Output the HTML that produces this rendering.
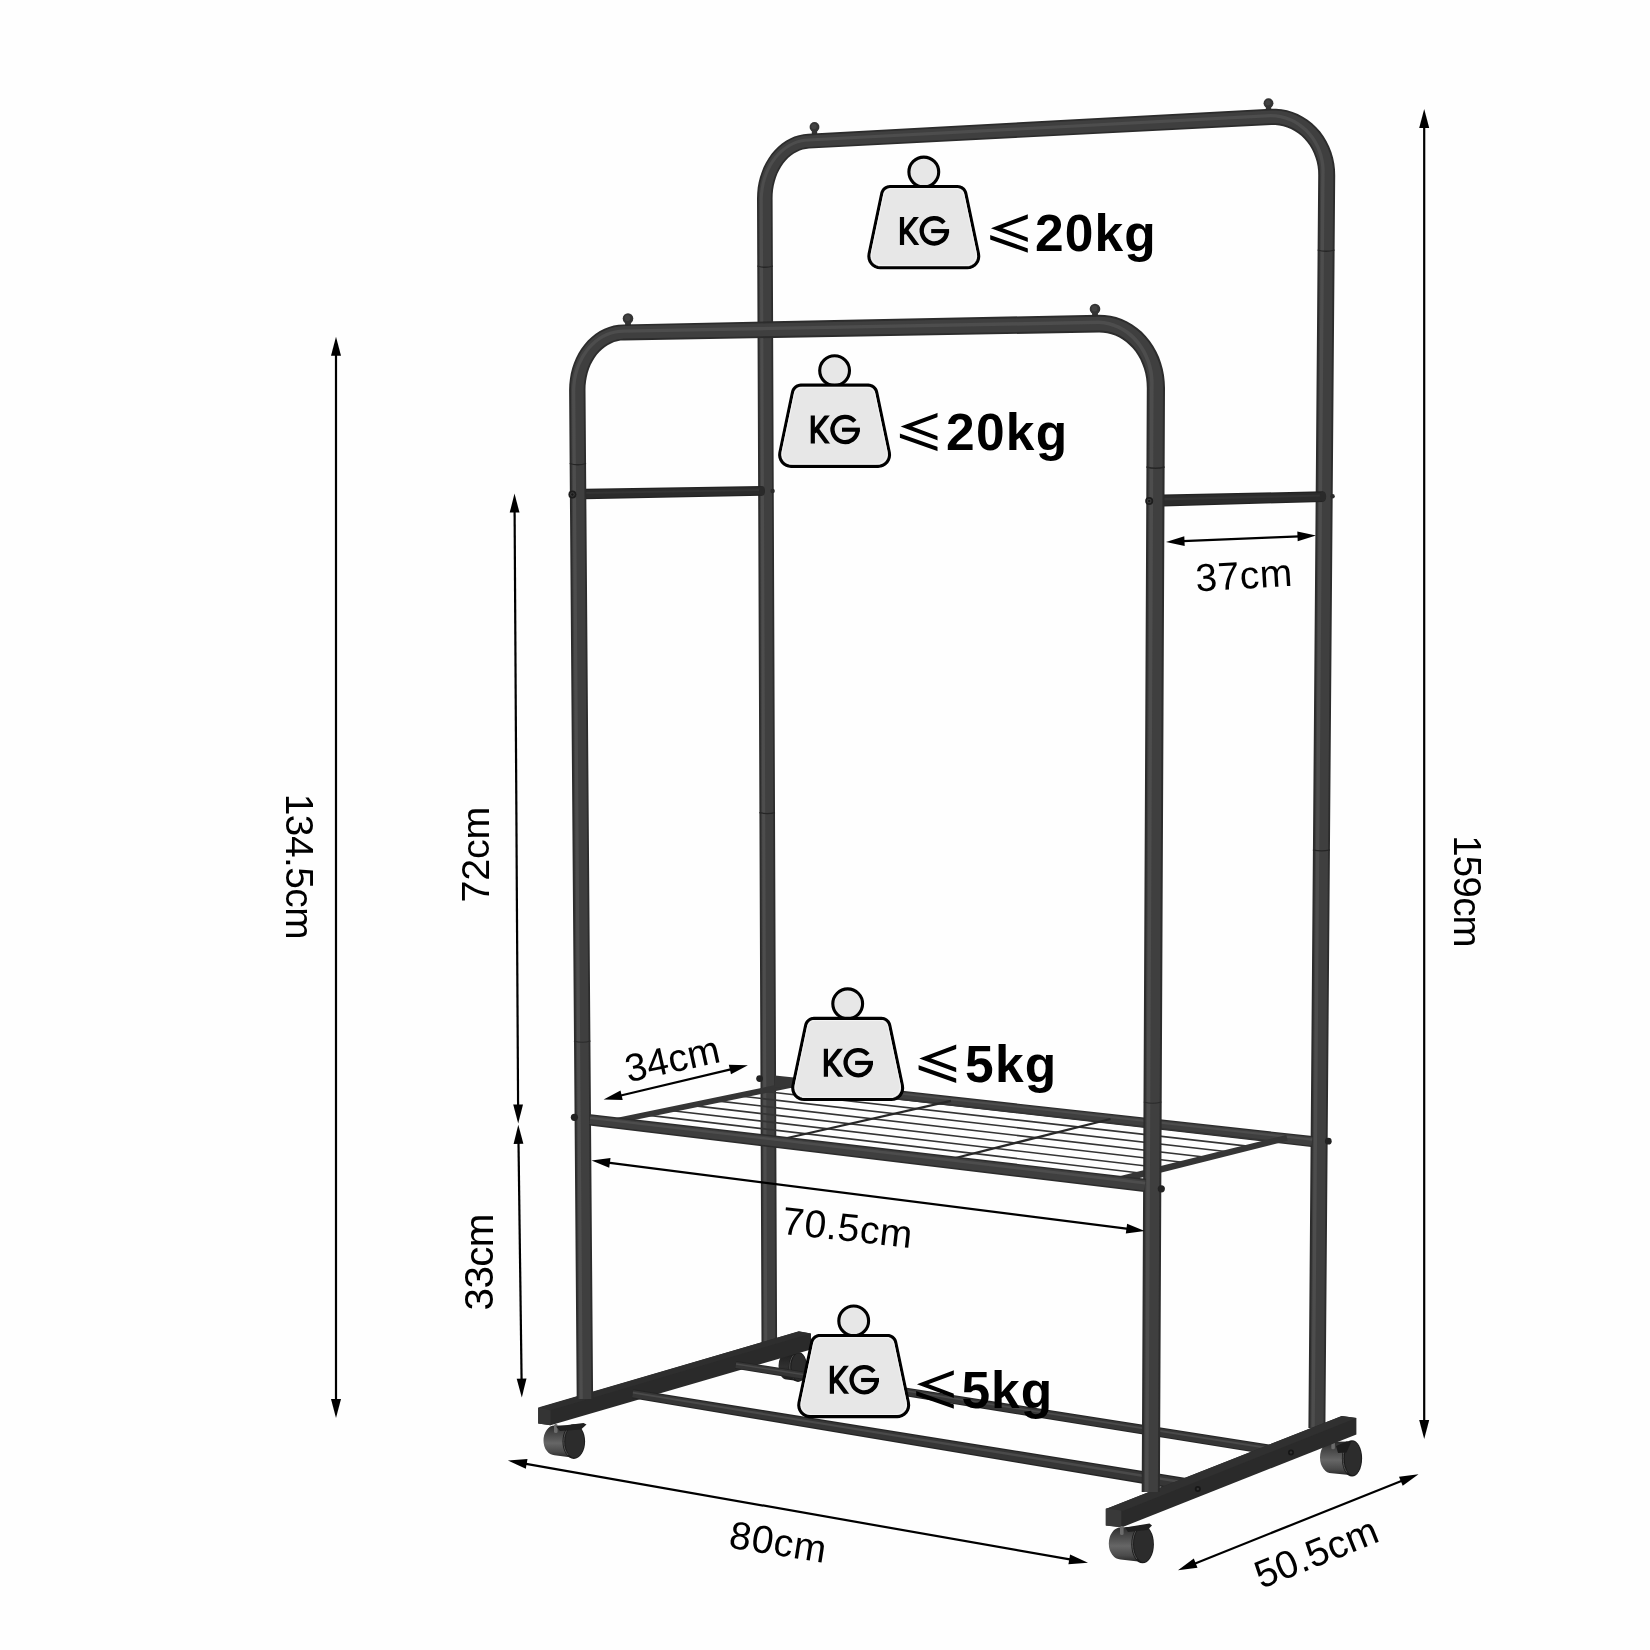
<!DOCTYPE html>
<html><head><meta charset="utf-8"><title>Garment rack dimensions</title>
<style>
html,body{margin:0;padding:0;background:#fff;}
svg{display:block;filter:grayscale(1) blur(0.45px);}
text{font-family:"Liberation Sans",sans-serif;fill:#000;}
.b{font-weight:bold;}
</style></head><body>
<svg width="1650" height="1650" viewBox="0 0 1650 1650">
<rect width="1650" height="1650" fill="#fefefe"/>
<defs>
<linearGradient id="wg" x1="0" y1="0" x2="0" y2="1"><stop offset="0" stop-color="#2a2a2c"/><stop offset="0.2" stop-color="#414143"/><stop offset="0.55" stop-color="#666668"/><stop offset="0.82" stop-color="#4a4a4c"/><stop offset="1" stop-color="#262628"/></linearGradient>
<linearGradient id="wgd" x1="0" y1="0" x2="0" y2="1"><stop offset="0" stop-color="#1e1e20"/><stop offset="0.5" stop-color="#303032"/><stop offset="1" stop-color="#1c1c1e"/></linearGradient>
<clipPath id="kclip"><rect x="-30" y="44.9" width="60" height="28"/></clipPath>
</defs>

<path d="M786.5,1352.5 L798,1353.1 L798,1380.9 L786.5,1379.5 A8,13.5 0 0 1 786.5,1352.5 Z" fill="url(#wgd)"/>
<ellipse cx="798" cy="1367" rx="9.4" ry="15" fill="#1b1b1d" />
<ellipse cx="798.9" cy="1367" rx="7.6" ry="13.7" fill="#2c2c2e" />
<path d="M793.3,1355.4 A7.9,13.9 0 0 0 793.3,1378.6" fill="none" stroke="#565658" stroke-width="0.9"/>
<path d="M1331.8,1441.7 L1352,1441.5 L1352,1475.3 L1331.8,1473.3 A11.8,15.8 0 0 1 1331.8,1441.7 Z" fill="url(#wg)"/>
<rect x="1331.3" y="1440.2" width="3.6" height="9" rx="1.5" fill="#6c6c6e"/>
<ellipse cx="1352" cy="1458.4" rx="10.1" ry="18.1" fill="#1b1b1d" />
<ellipse cx="1352.9" cy="1458.4" rx="8.3" ry="16.8" fill="#2c2c2e" />
<path d="M1346.9,1444.3 A8.6,17 0 0 0 1346.9,1472.5" fill="none" stroke="#565658" stroke-width="0.9"/>
<polygon points="1336,1446 1347,1441.2 1351,1442.5 1346.5,1452.5 1338,1453" fill="#1c1c1e" />
<rect x="811.8" y="127" width="5.4" height="10.8" fill="#343436"/>
<circle cx="814.5" cy="127" r="4.9" fill="#343436" />
<circle cx="814" cy="126.5" r="2.7" fill="#424244" />
<rect x="1265.8" y="103.2" width="5.4" height="10.8" fill="#343436"/>
<circle cx="1268.5" cy="103.2" r="4.9" fill="#343436" />
<circle cx="1268" cy="102.7" r="2.7" fill="#424244" />
<path d="M777.1,1345 L772.6,198.3 L772.7,194 L773.1,189.7 L773.8,185.5 L774.8,181.4 L776,177.4 L777.5,173.5 L779.3,169.9 L781.3,166.5 L783.5,163.3 L785.8,160.4 L788.4,157.8 L791.1,155.5 L793.9,153.5 L796.8,151.9 L799.8,150.5 L802.8,149.5 L805.9,148.9 L809,148.5 L1271.3,125 L1275.3,125 L1279.3,125.4 L1283.2,126.2 L1287.1,127.4 L1290.9,128.9 L1294.5,130.9 L1298,133.2 L1301.3,135.8 L1304.3,138.7 L1307.1,142 L1309.7,145.5 L1311.9,149.3 L1313.8,153.3 L1315.4,157.5 L1316.7,161.8 L1317.6,166.2 L1318.1,170.7 L1318.2,175.3 L1308.4,1427.9 L1325.4,1428.1 L1335.2,175.4 L1335,169.4 L1334.3,163.5 L1333.1,157.7 L1331.4,152.1 L1329.2,146.6 L1326.6,141.3 L1323.6,136.3 L1320.2,131.6 L1316.3,127.3 L1312.1,123.3 L1307.6,119.8 L1302.8,116.7 L1297.8,114 L1292.6,111.9 L1287.1,110.3 L1281.6,109.3 L1276,108.8 L1270.4,108.8 L808.2,133.7 L803.5,134.2 L798.9,135.2 L794.4,136.6 L790.1,138.5 L785.9,140.8 L781.9,143.6 L778.1,146.7 L774.6,150.3 L771.4,154.1 L768.5,158.2 L765.8,162.7 L763.5,167.3 L761.6,172.2 L759.9,177.2 L758.6,182.4 L757.7,187.6 L757.2,193 L757,198.4 L761.5,1345Z" fill="#2c2c2e"/>
<path d="M775.3,1345 L770.9,198.3 L771,193.9 L771.4,189.5 L772.1,185.1 L773.1,180.9 L774.4,176.8 L776,172.9 L777.8,169.1 L779.9,165.6 L782.1,162.3 L784.6,159.3 L787.3,156.6 L790.1,154.2 L793,152.2 L796,150.4 L799.2,149 L802.4,148 L805.6,147.2 L808.9,146.9 L1271.2,123.2 L1275.4,123.2 L1279.5,123.6 L1283.7,124.4 L1287.7,125.7 L1291.6,127.3 L1295.4,129.3 L1299.1,131.7 L1302.5,134.4 L1305.6,137.5 L1308.6,140.9 L1311.2,144.5 L1313.5,148.4 L1315.5,152.6 L1317.2,156.9 L1318.5,161.3 L1319.4,165.9 L1319.9,170.6 L1320.1,175.3 L1310.3,1427.9 L1323.6,1428.1 L1333.3,175.4 L1333.1,169.6 L1332.4,163.8 L1331.3,158.2 L1329.6,152.7 L1327.5,147.3 L1325,142.2 L1322.1,137.3 L1318.7,132.8 L1315,128.5 L1311,124.7 L1306.6,121.2 L1301.9,118.2 L1297,115.7 L1292,113.6 L1286.7,112.1 L1281.4,111 L1275.9,110.5 L1270.5,110.6 L808.3,135.4 L803.8,135.8 L799.4,136.7 L795,138.1 L790.8,140 L786.8,142.2 L782.9,144.9 L779.3,148 L775.9,151.4 L772.7,155.1 L769.9,159.1 L767.3,163.5 L765.1,168 L763.1,172.7 L761.6,177.7 L760.3,182.7 L759.4,187.9 L758.9,193.1 L758.7,198.4 L763.2,1345Z" fill="#3f3f41"/>
<path d="M767.3,1345 L762.8,198.4 L763.1,193.4 L763.8,188.5 L764.7,183.6 L766,178.9 L767.6,174.3 L769.5,170 L771.7,165.8 L774.1,161.9 L776.8,158.3 L779.8,154.9 L782.9,151.9 L786.3,149.3 L789.7,147 L793.4,145.1 L797.1,143.6 L800.9,142.5 L804.7,141.8 L808.6,141.5 L1270.9,117.3 L1275.6,117.6 L1280.3,118.3 L1284.9,119.5 L1289.3,121.1 L1293.6,123.1 L1297.6,125.5 L1301.4,128.4 L1305,131.5 L1308.2,135 L1311.2,138.8 L1313.7,142.8 L1316,147.1 L1317.8,151.6 L1319.3,156.2 L1320.4,160.9 L1321,165.7 L1321.3,170.5 L1321.2,175.3 L1311.4,1428 L1314.8,1428 L1324.6,175.3 L1324.7,170.2 L1324.4,165.1 L1323.6,160.1 L1322.5,155.1 L1320.9,150.2 L1318.9,145.5 L1316.5,141 L1313.8,136.7 L1310.6,132.7 L1307.2,129 L1303.4,125.7 L1299.3,122.7 L1295,120.1 L1290.4,118 L1285.7,116.3 L1280.8,115.1 L1275.8,114.3 L1270.7,114.1 L808.4,138.5 L804.3,138.8 L800.1,139.6 L796,140.8 L792,142.4 L788.1,144.4 L784.4,146.9 L780.9,149.7 L777.5,152.9 L774.4,156.4 L771.6,160.2 L769,164.3 L766.7,168.7 L764.7,173.3 L763,178.1 L761.7,183 L760.7,188 L760,193.2 L759.7,198.4 L764.2,1345Z" fill="#4d4d4f"/>
<path d="M757.3,266 Q765.1,268.5 772.9,266" stroke="#262628" stroke-width="1.3" fill="none"/>
<path d="M1317.6,250 Q1326.1,252.5 1334.6,250" stroke="#262628" stroke-width="1.3" fill="none"/>
<path d="M759.4,812.7 Q767.2,814.5 775,812.7" stroke="#262628" stroke-width="1.3" fill="none"/>
<path d="M1312.9,849.9 Q1321.4,851.7 1329.9,849.9" stroke="#262628" stroke-width="1.3" fill="none"/>
<path d="M774.5,1085.8 L1311.4,1146.9 L1312.6,1136.1 L775.5,1076.8Z" fill="#2c2c2e"/>
<path d="M774.6,1084.8 L1311.5,1145.7 L1312.5,1137.3 L775.4,1077.8Z" fill="#3f3f41"/>
<path d="M775.1,1080.6 L1312.1,1140.7 L1312.3,1138.5 L775.3,1078.8Z" fill="#4d4d4f"/>
<path d="M585.1,499.2 L762.1,495.7 L761.9,486.1 L584.9,488.8Z" fill="#232325"/>
<path d="M585.1,498.1 L762.1,494.6 L761.9,487.2 L584.9,489.9Z" fill="#2c2c2e"/>
<path d="M585,494 L762,490.9 L762,489 L585,491.9Z" fill="#343436"/>
<ellipse cx="762" cy="490.9" rx="3" ry="4.8" fill="#2a2a2c" />
<path d="M1163.1,506.5 L1323.1,501.9 L1322.9,491.3 L1162.9,494.5Z" fill="#232325"/>
<path d="M1163.1,505.2 L1323.1,500.7 L1322.9,492.5 L1162.9,495.8Z" fill="#2c2c2e"/>
<path d="M1163,500.5 L1323,496.6 L1322.9,494.5 L1162.9,498.1Z" fill="#343436"/>
<ellipse cx="1323" cy="496.6" rx="3.2" ry="5.3" fill="#2a2a2c" />
<line x1="784.6" y1="1086.1" x2="1273.6" y2="1141.2" stroke="#343436" stroke-width="1.6"/>
<line x1="761.1" y1="1091" x2="1251.7" y2="1146.6" stroke="#343436" stroke-width="1.6"/>
<line x1="737.6" y1="1095.8" x2="1230" y2="1152" stroke="#343436" stroke-width="1.6"/>
<line x1="714.3" y1="1100.6" x2="1208.4" y2="1157.5" stroke="#343436" stroke-width="1.6"/>
<line x1="691.1" y1="1105.4" x2="1186.9" y2="1162.8" stroke="#343436" stroke-width="1.6"/>
<line x1="668" y1="1110.2" x2="1165.4" y2="1168.2" stroke="#343436" stroke-width="1.6"/>
<line x1="645" y1="1114.9" x2="1144.1" y2="1173.5" stroke="#343436" stroke-width="1.6"/>
<line x1="622.1" y1="1119.6" x2="1122.8" y2="1178.8" stroke="#343436" stroke-width="1.6"/>
<line x1="785" y1="1138.5" x2="951" y2="1100.8" stroke="#28282a" stroke-width="2.3"/>
<line x1="949.5" y1="1159.5" x2="1110.5" y2="1119" stroke="#28282a" stroke-width="2.3"/>
<path d="M607.6,1125.5 L797.6,1086.6 L796.4,1080.6 L606.4,1120.1Z" fill="#353537"/>
<path d="M1119.8,1183 L1287.7,1140.7 L1286.3,1134.9 L1118.2,1176.6Z" fill="#353537"/>
<polygon points="775,1075.6 794,1077.4 794,1085.8 775,1087.5" fill="#363638" />
<polygon points="538.2,1407.9 798.8,1331.4 811,1333.5 811,1349.5 550.5,1425.2 538.2,1423.6" fill="#2a2a2c" />
<polygon points="538.2,1407.6 798.8,1331.3 811,1333.5 550.5,1410.2" fill="#2e2e30" />
<polygon points="538.2,1407.6 550.5,1410.2 550.5,1425.2 538.2,1423.6" fill="#343436" />
<path d="M735.2,1368.8 L1275.2,1455.8 L1276.8,1445.6 L736.4,1361Z" fill="#252527"/>
<path d="M735.3,1367.9 L1275.4,1454.7 L1276.6,1446.7 L736.3,1361.9Z" fill="#363638"/>
<path d="M735.8,1364.7 L1276,1450.4 L1276.4,1448.4 L736.1,1363.2Z" fill="#4a4a4c"/>
<path d="M632,1398.3 L1189,1491.5 L1191,1478.7 L633.4,1389.3Z" fill="#252527"/>
<path d="M632.1,1397.3 L1189.2,1490.1 L1190.8,1480.1 L633.3,1390.3Z" fill="#363638"/>
<path d="M632.7,1393.6 L1190.1,1484.8 L1190.5,1482.2 L633,1391.8Z" fill="#4a4a4c"/>
<polygon points="1105.8,1509 1341.8,1416 1356.4,1418 1356.4,1434.5 1122.7,1527 1105.8,1525.5" fill="#2a2a2c" />
<polygon points="1105.8,1509 1341.8,1416 1356.4,1418 1122.7,1511" fill="#303032" />
<polygon points="1105.8,1508.6 1121.3,1510.6 1121.3,1527.4 1105.8,1525.5" fill="#39393b" />
<circle cx="1197.8" cy="1489" r="3" fill="#161618" />
<circle cx="1197.8" cy="1489" r="1.2" fill="#343436" />
<circle cx="1291" cy="1452.4" r="3" fill="#161618" />
<circle cx="1291" cy="1452.4" r="1.2" fill="#343436" />
<rect x="625.1" y="318.5" width="5.8" height="11.7" fill="#343436"/>
<circle cx="628" cy="318.5" r="5.3" fill="#343436" />
<circle cx="627.5" cy="318" r="2.9" fill="#424244" />
<rect x="1092.1" y="309" width="5.8" height="11.7" fill="#343436"/>
<circle cx="1095" cy="309" r="5.3" fill="#343436" />
<circle cx="1094.5" cy="308.5" r="2.9" fill="#424244" />
<path d="M593.1,1398.9 L585.5,389.8 L585.6,385.4 L586.1,381.1 L586.8,376.9 L587.8,372.7 L589.1,368.7 L590.7,364.8 L592.6,361.2 L594.7,357.8 L597,354.6 L599.5,351.7 L602.2,349.2 L605,346.9 L608,345 L611,343.4 L614.1,342.1 L617.3,341.2 L620.5,340.6 L623.8,340.4 L1099.1,332.5 L1103.2,332.7 L1107.2,333.2 L1111.2,334.2 L1115.1,335.5 L1118.9,337.3 L1122.6,339.4 L1126.1,342 L1129.4,344.9 L1132.5,348.1 L1135.4,351.6 L1138,355.5 L1140.3,359.6 L1142.2,364 L1143.9,368.5 L1145.2,373.2 L1146.1,378.1 L1146.6,383 L1146.8,387.9 L1141.7,1492 L1159.9,1492 L1165,388 L1164.7,381.6 L1164,375.3 L1162.8,369.1 L1161.1,363 L1159,357.1 L1156.4,351.4 L1153.3,346 L1149.9,340.9 L1146,336.2 L1141.8,331.8 L1137.2,327.9 L1132.3,324.4 L1127.1,321.4 L1121.8,318.9 L1116.2,317 L1110.5,315.7 L1104.7,314.9 L1098.8,314.7 L623.5,324.4 L618.5,324.7 L613.7,325.6 L608.9,326.9 L604.3,328.8 L599.8,331.1 L595.6,333.8 L591.6,337 L587.8,340.6 L584.4,344.5 L581.2,348.7 L578.4,353.2 L576,358 L573.9,363 L572.2,368.1 L570.8,373.5 L569.9,378.9 L569.3,384.4 L569.1,389.9 L576.7,1399.1Z" fill="#2c2c2e"/>
<path d="M591.3,1399 L583.7,389.8 L583.8,385.3 L584.3,380.9 L585,376.5 L586.1,372.2 L587.5,368 L589.1,364.1 L591,360.3 L593.2,356.8 L595.6,353.5 L598.2,350.5 L601,347.8 L604,345.5 L607.1,343.4 L610.3,341.8 L613.6,340.4 L616.9,339.5 L620.3,338.9 L623.7,338.6 L1099.1,330.6 L1103.3,330.7 L1107.6,331.3 L1111.7,332.3 L1115.8,333.7 L1119.8,335.5 L1123.6,337.8 L1127.3,340.4 L1130.8,343.4 L1134,346.8 L1137,350.5 L1139.7,354.4 L1142,358.7 L1144.1,363.2 L1145.8,367.9 L1147.1,372.8 L1148.1,377.8 L1148.6,382.8 L1148.8,387.9 L1143.7,1492 L1157.9,1492 L1163,388 L1162.8,381.8 L1162.1,375.6 L1160.9,369.6 L1159.2,363.6 L1157.1,357.9 L1154.6,352.3 L1151.6,347.1 L1148.3,342.1 L1144.5,337.5 L1140.4,333.2 L1136,329.4 L1131.2,326 L1126.2,323.1 L1121,320.8 L1115.6,318.9 L1110.1,317.6 L1104.5,316.9 L1098.9,316.7 L623.5,326.1 L618.8,326.5 L614.1,327.3 L609.5,328.6 L605,330.4 L600.7,332.6 L596.6,335.3 L592.7,338.3 L589.1,341.8 L585.8,345.6 L582.7,349.7 L580,354.1 L577.6,358.7 L575.6,363.6 L573.9,368.6 L572.6,373.8 L571.6,379.1 L571.1,384.5 L570.9,389.9 L578.5,1399Z" fill="#3f3f41"/>
<path d="M582.8,1399 L575.3,389.9 L575.6,384.8 L576.2,379.8 L577.2,374.8 L578.6,370 L580.2,365.3 L582.3,360.9 L584.6,356.7 L587.2,352.7 L590.1,349 L593.2,345.7 L596.5,342.7 L600.1,340 L603.8,337.8 L607.6,335.9 L611.5,334.5 L615.5,333.5 L619.6,332.9 L623.6,332.8 L1099,324.1 L1103.9,324.5 L1108.7,325.5 L1113.3,326.9 L1117.8,328.8 L1122.1,331.1 L1126.2,333.8 L1130.1,336.9 L1133.6,340.4 L1136.9,344.2 L1139.8,348.3 L1142.4,352.7 L1144.7,357.4 L1146.6,362.2 L1148,367.2 L1149.1,372.3 L1149.8,377.5 L1150.1,382.7 L1150,387.9 L1144.9,1492 L1148.5,1492 L1153.6,387.9 L1153.7,382.4 L1153.4,376.9 L1152.7,371.5 L1151.5,366.1 L1149.9,360.8 L1147.9,355.7 L1145.5,350.8 L1142.7,346.2 L1139.6,341.8 L1136.1,337.8 L1132.3,334.1 L1128.2,330.8 L1123.8,327.9 L1119.2,325.4 L1114.3,323.5 L1109.3,322 L1104.2,321 L1098.9,320.5 L623.6,329.6 L619.2,329.7 L614.8,330.4 L610.5,331.5 L606.2,333 L602.1,335 L598.2,337.4 L594.4,340.2 L590.8,343.4 L587.5,347 L584.5,350.9 L581.7,355.1 L579.3,359.5 L577.2,364.2 L575.4,369.1 L574,374.1 L573,379.3 L572.3,384.6 L572,389.9 L579.6,1399Z" fill="#4d4d4f"/>
<path d="M569.7,463.5 Q577.9,466 586.1,463.5" stroke="#262628" stroke-width="1.3" fill="none"/>
<path d="M1146.4,467 Q1155.5,469.5 1164.6,467" stroke="#262628" stroke-width="1.3" fill="none"/>
<path d="M573.9,1041 Q582.2,1043.5 590.5,1041" stroke="#2a2a2c" stroke-width="1.2" fill="none"/>
<path d="M1143.8,1102 Q1152.6,1104.5 1161.4,1102" stroke="#2a2a2c" stroke-width="1.2" fill="none"/>
<path d="M589.3,1125.4 L1144.2,1192.1 L1145.8,1178.7 L590.7,1114.2Z" fill="#2c2c2e"/>
<path d="M589.5,1124.1 L1144.4,1190.6 L1145.6,1180.2 L590.5,1115.5Z" fill="#3f3f41"/>
<path d="M590.1,1119 L1145.1,1184.4 L1145.4,1181.7 L590.4,1116.7Z" fill="#4d4d4f"/>
<circle cx="572.4" cy="494.5" r="4" fill="#1d1d1f" />
<circle cx="572.4" cy="494.5" r="2.3" fill="#3c3c3e" />
<circle cx="572.4" cy="494.5" r="1.2" fill="#18181a" />
<circle cx="1149.2" cy="501" r="4" fill="#1d1d1f" />
<circle cx="1149.2" cy="501" r="2.3" fill="#3c3c3e" />
<circle cx="1149.2" cy="501" r="1.2" fill="#18181a" />
<circle cx="574.4" cy="1117.3" r="3.6" fill="#222224" />
<circle cx="759.6" cy="1078.6" r="3.4" fill="#222224" />
<circle cx="1161.3" cy="1188.8" r="3.6" fill="#222224" />
<circle cx="1328.3" cy="1141.2" r="3.4" fill="#222224" />
<circle cx="772.6" cy="491" r="2.2" fill="#2a2a2c" />
<circle cx="1332.6" cy="496.2" r="2.2" fill="#2a2a2c" />
<path d="M554.5,1425.6 L573.8,1425.5 L573.8,1457.7 L554.5,1455.2 A11,14.8 0 0 1 554.5,1425.6 Z" fill="url(#wg)"/>
<rect x="554" y="1424.1" width="3.6" height="9" rx="1.5" fill="#6c6c6e"/>
<ellipse cx="573.8" cy="1441.6" rx="11.3" ry="17.3" fill="#1b1b1d" />
<ellipse cx="574.7" cy="1441.6" rx="9.5" ry="16" fill="#2c2c2e" />
<path d="M568.1,1428.2 A9.8,16.2 0 0 0 568.1,1455" fill="none" stroke="#565658" stroke-width="0.9"/>
<polygon points="556,1426.5 583.5,1423 586.5,1424.6 581,1429.5 560,1431" fill="#1f1f21" />
<path d="M1120.5,1527.6 L1142.6,1526.3 L1142.6,1562.1 L1120.5,1559.4 A11.7,15.9 0 0 1 1120.5,1527.6 Z" fill="url(#wg)"/>
<rect x="1120" y="1526.1" width="3.6" height="9" rx="1.5" fill="#6c6c6e"/>
<ellipse cx="1142.6" cy="1544.2" rx="11.3" ry="19.1" fill="#1b1b1d" />
<ellipse cx="1143.5" cy="1544.2" rx="9.5" ry="17.8" fill="#2c2c2e" />
<path d="M1136.9,1529.3 A9.8,18 0 0 0 1136.9,1559.1" fill="none" stroke="#565658" stroke-width="0.9"/>
<polygon points="1125,1527.5 1149.5,1523.6 1152,1525.4 1147.5,1530 1128,1532" fill="#1f1f21" />
<g transform="translate(923.8 172)">
<circle r="14.9" fill="#e7e7e5" stroke="#000" stroke-width="3.1"/>
<path d="M-42.01,21.31 L-41.60,19.92 L-40.95,18.63 L-40.10,17.46 L-39.05,16.45 L-37.86,15.64 L-36.54,15.04 L-35.14,14.67 L-33.70,14.55 L33.70,14.55 L35.14,14.67 L36.54,15.04 L37.86,15.64 L39.05,16.45 L40.10,17.46 L40.95,18.63 L41.60,19.92 L42.01,21.31 L54.70,81.89 L54.94,84.43 L54.62,86.96 L53.75,89.36 L52.37,91.50 L50.55,93.29 L48.39,94.63 L45.98,95.47 L43.44,95.75 L-43.44,95.75 L-45.98,95.47 L-48.39,94.63 L-50.55,93.29 L-52.37,91.50 L-53.75,89.36 L-54.62,86.96 L-54.94,84.43 L-54.70,81.89Z" fill="#e7e7e5" stroke="#000" stroke-width="3.1" stroke-linejoin="round"/>
<path d="M-42.01,21.31 L-41.60,19.92 L-40.95,18.63 L-40.10,17.46 L-39.05,16.45 L-37.86,15.64 L-36.54,15.04 L-35.14,14.67 L-33.70,14.55 L33.70,14.55 L35.14,14.67 L36.54,15.04 L37.86,15.64 L39.05,16.45 L40.10,17.46 L40.95,18.63 L41.60,19.92 L42.01,21.31 L54.70,81.89 L54.94,84.43 L54.62,86.96 L53.75,89.36 L52.37,91.50 L50.55,93.29 L48.39,94.63 L45.98,95.47 L43.44,95.75 L-43.44,95.75 L-45.98,95.47 L-48.39,94.63 L-50.55,93.29 L-52.37,91.50 L-53.75,89.36 L-54.62,86.96 L-54.94,84.43 L-54.70,81.89Z" fill="none" stroke="#f6f6f5" stroke-width="0.9" transform="translate(0 55.15) scale(0.958 0.945) translate(0 -55.15)"/>
<g clip-path="url(#kclip)" fill="none" stroke="#000" stroke-width="4.2">
<path d="M-21.8,40 V80"/>
<path d="M-6.3,43.4 L-20.5,61.5"/><path d="M-19.0,56.8 L-5.9,74.6"/>
</g>
<path d="M20.2,50.8 A12.6,12.6 0 1 0 23.1,59.1" fill="none" stroke="#000" stroke-width="4.3"/>
<path d="M25.3,59.1 H7.4" fill="none" stroke="#000" stroke-width="4.1"/>
</g>
<g transform="translate(834.6 370.6)">
<circle r="14.9" fill="#e7e7e5" stroke="#000" stroke-width="3.1"/>
<path d="M-42.01,21.31 L-41.60,19.92 L-40.95,18.63 L-40.10,17.46 L-39.05,16.45 L-37.86,15.64 L-36.54,15.04 L-35.14,14.67 L-33.70,14.55 L33.70,14.55 L35.14,14.67 L36.54,15.04 L37.86,15.64 L39.05,16.45 L40.10,17.46 L40.95,18.63 L41.60,19.92 L42.01,21.31 L54.70,81.89 L54.94,84.43 L54.62,86.96 L53.75,89.36 L52.37,91.50 L50.55,93.29 L48.39,94.63 L45.98,95.47 L43.44,95.75 L-43.44,95.75 L-45.98,95.47 L-48.39,94.63 L-50.55,93.29 L-52.37,91.50 L-53.75,89.36 L-54.62,86.96 L-54.94,84.43 L-54.70,81.89Z" fill="#e7e7e5" stroke="#000" stroke-width="3.1" stroke-linejoin="round"/>
<path d="M-42.01,21.31 L-41.60,19.92 L-40.95,18.63 L-40.10,17.46 L-39.05,16.45 L-37.86,15.64 L-36.54,15.04 L-35.14,14.67 L-33.70,14.55 L33.70,14.55 L35.14,14.67 L36.54,15.04 L37.86,15.64 L39.05,16.45 L40.10,17.46 L40.95,18.63 L41.60,19.92 L42.01,21.31 L54.70,81.89 L54.94,84.43 L54.62,86.96 L53.75,89.36 L52.37,91.50 L50.55,93.29 L48.39,94.63 L45.98,95.47 L43.44,95.75 L-43.44,95.75 L-45.98,95.47 L-48.39,94.63 L-50.55,93.29 L-52.37,91.50 L-53.75,89.36 L-54.62,86.96 L-54.94,84.43 L-54.70,81.89Z" fill="none" stroke="#f6f6f5" stroke-width="0.9" transform="translate(0 55.15) scale(0.958 0.945) translate(0 -55.15)"/>
<g clip-path="url(#kclip)" fill="none" stroke="#000" stroke-width="4.2">
<path d="M-21.8,40 V80"/>
<path d="M-6.3,43.4 L-20.5,61.5"/><path d="M-19.0,56.8 L-5.9,74.6"/>
</g>
<path d="M20.2,50.8 A12.6,12.6 0 1 0 23.1,59.1" fill="none" stroke="#000" stroke-width="4.3"/>
<path d="M25.3,59.1 H7.4" fill="none" stroke="#000" stroke-width="4.1"/>
</g>
<g transform="translate(847.7 1003.8)">
<circle r="14.9" fill="#e7e7e5" stroke="#000" stroke-width="3.1"/>
<path d="M-42.01,21.31 L-41.60,19.92 L-40.95,18.63 L-40.10,17.46 L-39.05,16.45 L-37.86,15.64 L-36.54,15.04 L-35.14,14.67 L-33.70,14.55 L33.70,14.55 L35.14,14.67 L36.54,15.04 L37.86,15.64 L39.05,16.45 L40.10,17.46 L40.95,18.63 L41.60,19.92 L42.01,21.31 L54.70,81.89 L54.94,84.43 L54.62,86.96 L53.75,89.36 L52.37,91.50 L50.55,93.29 L48.39,94.63 L45.98,95.47 L43.44,95.75 L-43.44,95.75 L-45.98,95.47 L-48.39,94.63 L-50.55,93.29 L-52.37,91.50 L-53.75,89.36 L-54.62,86.96 L-54.94,84.43 L-54.70,81.89Z" fill="#e7e7e5" stroke="#000" stroke-width="3.1" stroke-linejoin="round"/>
<path d="M-42.01,21.31 L-41.60,19.92 L-40.95,18.63 L-40.10,17.46 L-39.05,16.45 L-37.86,15.64 L-36.54,15.04 L-35.14,14.67 L-33.70,14.55 L33.70,14.55 L35.14,14.67 L36.54,15.04 L37.86,15.64 L39.05,16.45 L40.10,17.46 L40.95,18.63 L41.60,19.92 L42.01,21.31 L54.70,81.89 L54.94,84.43 L54.62,86.96 L53.75,89.36 L52.37,91.50 L50.55,93.29 L48.39,94.63 L45.98,95.47 L43.44,95.75 L-43.44,95.75 L-45.98,95.47 L-48.39,94.63 L-50.55,93.29 L-52.37,91.50 L-53.75,89.36 L-54.62,86.96 L-54.94,84.43 L-54.70,81.89Z" fill="none" stroke="#f6f6f5" stroke-width="0.9" transform="translate(0 55.15) scale(0.958 0.945) translate(0 -55.15)"/>
<g clip-path="url(#kclip)" fill="none" stroke="#000" stroke-width="4.2">
<path d="M-21.8,40 V80"/>
<path d="M-6.3,43.4 L-20.5,61.5"/><path d="M-19.0,56.8 L-5.9,74.6"/>
</g>
<path d="M20.2,50.8 A12.6,12.6 0 1 0 23.1,59.1" fill="none" stroke="#000" stroke-width="4.3"/>
<path d="M25.3,59.1 H7.4" fill="none" stroke="#000" stroke-width="4.1"/>
</g>
<g transform="translate(853.7 1320.9)">
<circle r="14.9" fill="#e7e7e5" stroke="#000" stroke-width="3.1"/>
<path d="M-42.01,21.31 L-41.60,19.92 L-40.95,18.63 L-40.10,17.46 L-39.05,16.45 L-37.86,15.64 L-36.54,15.04 L-35.14,14.67 L-33.70,14.55 L33.70,14.55 L35.14,14.67 L36.54,15.04 L37.86,15.64 L39.05,16.45 L40.10,17.46 L40.95,18.63 L41.60,19.92 L42.01,21.31 L54.70,81.89 L54.94,84.43 L54.62,86.96 L53.75,89.36 L52.37,91.50 L50.55,93.29 L48.39,94.63 L45.98,95.47 L43.44,95.75 L-43.44,95.75 L-45.98,95.47 L-48.39,94.63 L-50.55,93.29 L-52.37,91.50 L-53.75,89.36 L-54.62,86.96 L-54.94,84.43 L-54.70,81.89Z" fill="#e7e7e5" stroke="#000" stroke-width="3.1" stroke-linejoin="round"/>
<path d="M-42.01,21.31 L-41.60,19.92 L-40.95,18.63 L-40.10,17.46 L-39.05,16.45 L-37.86,15.64 L-36.54,15.04 L-35.14,14.67 L-33.70,14.55 L33.70,14.55 L35.14,14.67 L36.54,15.04 L37.86,15.64 L39.05,16.45 L40.10,17.46 L40.95,18.63 L41.60,19.92 L42.01,21.31 L54.70,81.89 L54.94,84.43 L54.62,86.96 L53.75,89.36 L52.37,91.50 L50.55,93.29 L48.39,94.63 L45.98,95.47 L43.44,95.75 L-43.44,95.75 L-45.98,95.47 L-48.39,94.63 L-50.55,93.29 L-52.37,91.50 L-53.75,89.36 L-54.62,86.96 L-54.94,84.43 L-54.70,81.89Z" fill="none" stroke="#f6f6f5" stroke-width="0.9" transform="translate(0 55.15) scale(0.958 0.945) translate(0 -55.15)"/>
<g clip-path="url(#kclip)" fill="none" stroke="#000" stroke-width="4.2">
<path d="M-21.8,40 V80"/>
<path d="M-6.3,43.4 L-20.5,61.5"/><path d="M-19.0,56.8 L-5.9,74.6"/>
</g>
<path d="M20.2,50.8 A12.6,12.6 0 1 0 23.1,59.1" fill="none" stroke="#000" stroke-width="4.3"/>
<path d="M25.3,59.1 H7.4" fill="none" stroke="#000" stroke-width="4.1"/>
</g>
<g transform="translate(991.2 228)">
<clipPath id="lq10140"><rect x="-1" y="-20" width="37.6" height="50"/></clipPath>
<g clip-path="url(#lq10140)" fill="none" stroke="#000" stroke-width="4.1" stroke-miterlimit="10">
<path d="M42,-13.4 L5.6,0.2 L42,13.8"/>
<path d="M-3,8.6 L42,24.4"/>
</g></g>
<g transform="translate(900.9 426.4)">
<clipPath id="lq9435"><rect x="-1" y="-20" width="37.6" height="50"/></clipPath>
<g clip-path="url(#lq9435)" fill="none" stroke="#000" stroke-width="4.1" stroke-miterlimit="10">
<path d="M42,-13.4 L5.6,0.2 L42,13.8"/>
<path d="M-3,8.6 L42,24.4"/>
</g></g>
<g transform="translate(919.6 1058.2)">
<clipPath id="lq10254"><rect x="-1" y="-20" width="37.6" height="50"/></clipPath>
<g clip-path="url(#lq10254)" fill="none" stroke="#000" stroke-width="4.1" stroke-miterlimit="10">
<path d="M42,-13.4 L5.6,0.2 L42,13.8"/>
<path d="M-3,8.6 L42,24.4"/>
</g></g>
<g transform="translate(917.2 1384)">
<clipPath id="lq10556"><rect x="-1" y="-20" width="37.6" height="50"/></clipPath>
<g clip-path="url(#lq10556)" fill="none" stroke="#000" stroke-width="4.1" stroke-miterlimit="10">
<path d="M42,-13.4 L5.6,0.2 L42,13.8"/>
<path d="M-3,8.6 L42,24.4"/>
</g></g>
<line x1="336" y1="353.8" x2="336" y2="1400.9" stroke="#000" stroke-width="2.2"/>
<polygon points="336,1418 331,1399 341,1399" fill="#000" />
<polygon points="336,336.7 331,355.7 341,355.7" fill="#000" />
<line x1="1424.2" y1="126.2" x2="1424.2" y2="1422" stroke="#000" stroke-width="2.2"/>
<polygon points="1424.2,1439.1 1419.2,1420.1 1429.2,1420.1" fill="#000" />
<polygon points="1424.2,109.1 1419.2,128.1 1429.2,128.1" fill="#000" />
<line x1="514.6" y1="510.7" x2="518.1" y2="1106.5" stroke="#000" stroke-width="2.2"/>
<polygon points="518.2,1123.6 513.2,1104.6 523,1104.6" fill="#000" />
<polygon points="514.5,493.6 509.7,512.6 519.5,512.6" fill="#000" />
<line x1="518.5" y1="1141.9" x2="521.6" y2="1380.5" stroke="#000" stroke-width="2.2"/>
<polygon points="521.8,1397.6 516.7,1378.7 526.5,1378.5" fill="#000" />
<polygon points="518.3,1124.8 513.6,1143.9 523.4,1143.7" fill="#000" />
<line x1="1182.6" y1="541.2" x2="1299.4" y2="536.3" stroke="#000" stroke-width="2.2"/>
<polygon points="1316,535.6 1297.7,541.3 1297.3,531.5" fill="#000" />
<polygon points="1166,541.9 1184.7,546 1184.3,536.2" fill="#000" />
<line x1="619.8" y1="1095.7" x2="731.7" y2="1069.1" stroke="#000" stroke-width="2.2"/>
<polygon points="747.9,1065.3 731,1074.3 728.8,1064.8" fill="#000" />
<polygon points="603.6,1099.5 622.7,1100 620.5,1090.5" fill="#000" />
<line x1="608" y1="1162.7" x2="1128.3" y2="1228.9" stroke="#000" stroke-width="2.2"/>
<polygon points="1144.8,1231 1125.8,1233.5 1127.1,1223.8" fill="#000" />
<polygon points="591.5,1160.6 609.2,1167.8 610.5,1158.1" fill="#000" />
<line x1="524.7" y1="1463.6" x2="1071.2" y2="1559.7" stroke="#000" stroke-width="2.2"/>
<polygon points="1088,1562.7 1068.4,1564.2 1070.1,1554.6" fill="#000" />
<polygon points="507.9,1460.6 525.8,1468.7 527.5,1459.1" fill="#000" />
<line x1="1193.9" y1="1563.9" x2="1402.6" y2="1480.5" stroke="#000" stroke-width="2.2"/>
<polygon points="1418.5,1474.2 1402.7,1485.8 1399,1476.7" fill="#000" />
<polygon points="1178,1570.2 1197.5,1567.7 1193.8,1558.6" fill="#000" />
<text x="0" y="0" font-size="38.8" textLength="145.70" lengthAdjust="spacing" transform="translate(286.40 793.80) rotate(90)">134.5cm</text>
<text x="0" y="0" font-size="38.3" textLength="112.34" lengthAdjust="spacing" transform="translate(1454.20 835.20) rotate(90)">159cm</text>
<text x="0" y="0" font-size="39.4" textLength="95.90" lengthAdjust="spacing" transform="translate(488.90 902.50) rotate(-90)">72cm</text>
<text x="0" y="0" font-size="40.3" textLength="96.80" lengthAdjust="spacing" transform="translate(493.30 1310.40) rotate(-90)">33cm</text>
<text x="0" y="0" font-size="39" textLength="96.80" lengthAdjust="spacing" transform="translate(1196.30 591.60) rotate(-3.5)">37cm</text>
<text x="0" y="0" font-size="39" textLength="96.11" lengthAdjust="spacing" transform="translate(628.20 1082.50) rotate(-12.5)">34cm</text>
<text x="0" y="0" font-size="39" textLength="130.61" lengthAdjust="spacing" transform="translate(781.10 1233.70) rotate(6.3)">70.5cm</text>
<text x="0" y="0" font-size="39" textLength="97.55" lengthAdjust="spacing" transform="translate(727.80 1547.50) rotate(9)">80cm</text>
<text x="0" y="0" font-size="39" textLength="129.27" lengthAdjust="spacing" transform="translate(1261.20 1589.10) rotate(-21.9)">50.5cm</text>
<text class="b" x="0" y="0" font-size="51.5" textLength="120.74" lengthAdjust="spacing" transform="translate(1035.00 251.00) rotate(0)">20kg</text>
<text class="b" x="0" y="0" font-size="51.5" textLength="121.28" lengthAdjust="spacing" transform="translate(946.00 449.50) rotate(0)">20kg</text>
<text class="b" x="0" y="0" font-size="51.5" textLength="91.24" lengthAdjust="spacing" transform="translate(965.00 1082.30) rotate(0)">5kg</text>
<text class="b" x="0" y="0" font-size="51.5" textLength="90.52" lengthAdjust="spacing" transform="translate(961.60 1407.80) rotate(0)">5kg</text>
</svg></body></html>
